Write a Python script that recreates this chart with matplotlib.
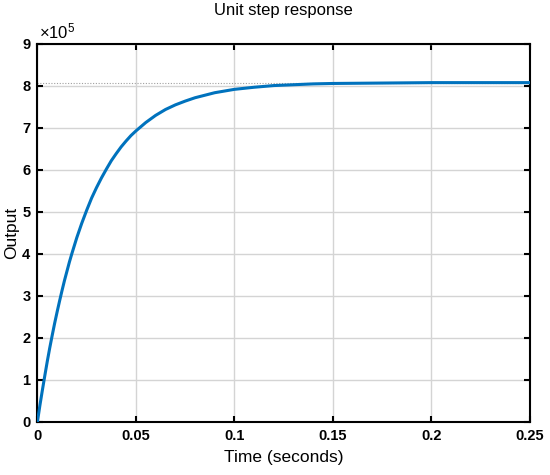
import matplotlib
matplotlib.use("Agg")
import matplotlib.pyplot as plt

plt.rcParams['font.family'] = ['Liberation Sans', 'DejaVu Sans']
plt.rcParams['mathtext.fontset'] = 'custom'
plt.rcParams['mathtext.rm'] = 'Liberation Sans'
plt.rcParams['mathtext.it'] = 'Liberation Sans'

# Data (output in units of 1e5)
time_s = [0, 0.00125, 0.0025, 0.00375, 0.005, 0.00625, 0.0075, 0.00875, 0.01,
          0.01125, 0.0125, 0.01375, 0.015, 0.01625, 0.0175, 0.01875, 0.02,
          0.0225, 0.025, 0.0275, 0.03, 0.0325, 0.035, 0.0375, 0.04, 0.0425,
          0.045, 0.0475, 0.05, 0.055, 0.06, 0.065, 0.07, 0.075, 0.08, 0.085,
          0.09, 0.095, 0.1, 0.11, 0.12, 0.13, 0.14, 0.15, 0.175, 0.2, 0.225, 0.25]
output_e5 = [0, 0.39, 0.75, 1.10, 1.44, 1.76, 2.06, 2.35, 2.62,
             2.88, 3.13, 3.37, 3.59, 3.81, 4.01, 4.20, 4.39,
             4.73, 5.04, 5.33, 5.58, 5.81, 6.02, 6.22, 6.39, 6.55,
             6.69, 6.82, 6.93, 7.13, 7.30, 7.44, 7.55, 7.64, 7.72, 7.78,
             7.84, 7.88, 7.92, 7.97, 8.01, 8.03, 8.05, 8.06, 8.07, 8.08, 8.08, 8.08]
steady_state_e5 = 8.07
x_ticks = [0, 0.05, 0.1, 0.15, 0.2, 0.25]
x_tick_labels = ['0', '0.05', '0.1', '0.15', '0.2', '0.25']
y_ticks = [0, 1, 2, 3, 4, 5, 6, 7, 8, 9]

fig = plt.figure(figsize=(5.5, 4.75), dpi=100)
ax = fig.add_axes([0.068, 0.1116, 0.8956, 0.7958])

ax.grid(True, color='#d4d4d4', linewidth=1.0)
ax.set_axisbelow(True)
ax.axhline(steady_state_e5, color='#a0a0a0', linestyle=(0, (1, 1.5)), linewidth=0.8, zorder=2)
ax.plot(time_s, output_e5, color='#0072BD', linewidth=2.2, zorder=3,
        solid_joinstyle='round')

ax.set_xlim(0, 0.25)
ax.set_ylim(0, 9)
ax.set_xticks(x_ticks)
ax.set_xticklabels(x_tick_labels)
ax.set_yticks(y_ticks)
ax.tick_params(direction='in', top=True, right=True, length=4, width=1.5,
               labelsize=10.5, pad=5)
for lab in ax.get_xticklabels() + ax.get_yticklabels():
    lab.set_fontweight('bold')
for sp in ax.spines.values():
    sp.set_linewidth(1.5)

ax.set_title('Unit step response', fontsize=12, pad=21)
ax.set_xlabel('Time (seconds)', fontsize=12.5, labelpad=5)
ax.set_ylabel('Output', fontsize=12.5, labelpad=2)
ax.text(0.003, 1.008, r'$\times10^{5}$', transform=ax.transAxes, fontsize=12,
        ha='left', va='bottom')

fig.savefig('out.png', dpi=100)
